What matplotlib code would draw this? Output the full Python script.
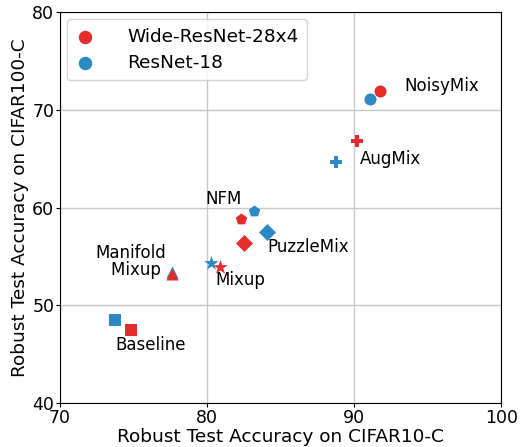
import matplotlib.pyplot as plt

methods = ['Baseline', 'Mixup', 'Manifold Mixup', 'PuzzleMix', 'NFM', 'AugMix', 'NoisyMix']
markers = ['s', '*', '^', 'D', 'p', 'P', 'o']

# Wide-ResNet-28x4
wrn_c10 = [74.8, 80.85, 77.65, 82.5, 82.3, 90.2, 91.75]
wrn_c100 = [47.5, 53.9, 53.2, 56.4, 58.8, 66.8, 71.9]
# ResNet-18
rn_c10 = [73.75, 80.3, 77.65, 84.1, 83.2, 88.8, 91.1]
rn_c100 = [48.5, 54.3, 53.4, 57.5, 59.7, 64.7, 71.1]

RED = '#E32D2D'
BLUE = '#2B8AC4'

fig, ax = plt.subplots(figsize=(5.21, 4.47), dpi=100)

for m, x1, y1, x2, y2 in zip(markers, rn_c10, rn_c100, wrn_c10, wrn_c100):
    size = 120 if m == '*' else 75
    ax.scatter([x1], [y1], marker=m, color=BLUE, s=size, zorder=3, linewidths=0)
    ax.scatter([x2], [y2], marker=m, color=RED, s=size, zorder=3, linewidths=0)

# legend handles
ax.scatter([], [], marker='o', color=RED, s=75, label='Wide-ResNet-28x4')
ax.scatter([], [], marker='o', color=BLUE, s=75, label='ResNet-18')

fs = 12
ax.text(93.45, 72.4, 'NoisyMix', fontsize=fs, ha='left', va='center')
ax.text(90.4, 65.0, 'AugMix', fontsize=fs, ha='left', va='center')
ax.text(82.35, 60.9, 'NFM', fontsize=fs, ha='right', va='center')
ax.text(84.1, 56.0, 'PuzzleMix', fontsize=fs, ha='left', va='center')
ax.text(80.55, 52.6, 'Mixup', fontsize=fs, ha='left', va='center')
ax.text(77.2, 52.75, 'Manifold\nMixup ', fontsize=fs, ha='right', va='bottom',
        multialignment='right', linespacing=0.9)
ax.text(73.8, 46.0, 'Baseline', fontsize=fs, ha='left', va='center')

ax.set_xlim(70, 100)
ax.set_ylim(40, 80)
ax.set_xticks([70, 80, 90, 100])
ax.set_yticks([40, 50, 60, 70, 80])
ax.tick_params(labelsize=12.5, length=3, pad=1)
ax.grid(True, color='#c8c8c8', linewidth=1)
ax.set_axisbelow(True)
ax.set_xlabel('Robust Test Accuracy on CIFAR10-C', fontsize=13.3, labelpad=1)
ax.set_ylabel('Robust Test Accuracy on CIFAR100-C', fontsize=13.3, labelpad=2)
ax.legend(loc='upper left', fontsize=13.3, borderpad=0.45, handlelength=1.0,
          handletextpad=1.8, labelspacing=0.45, borderaxespad=0.4)

plt.subplots_adjust(left=0.115, right=0.962, top=0.973, bottom=0.098)
plt.savefig('out.png', dpi=100, facecolor='white')
